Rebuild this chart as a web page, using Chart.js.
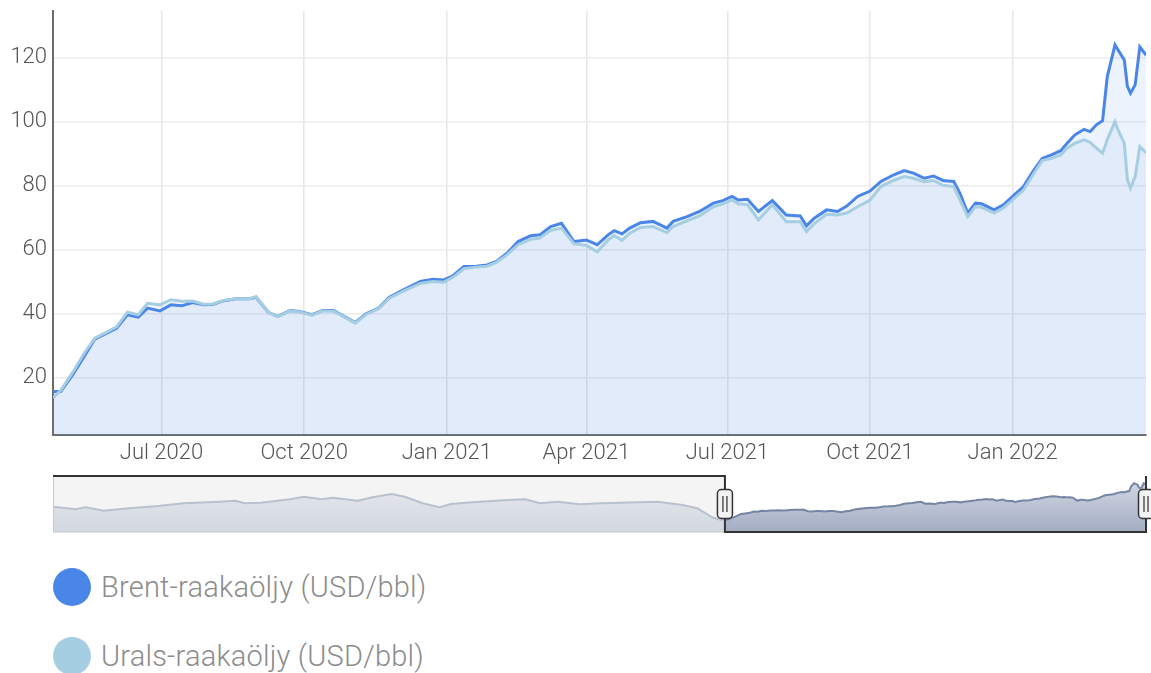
<!DOCTYPE html>
<html>
<head>
<meta charset="utf-8">
<script src="https://cdn.jsdelivr.net/npm/chart.js@4.4.1/dist/chart.umd.min.js"></script>
<style>
	body{margin:0;background:#fff;width:1151px;height:673px;overflow:hidden;position:relative;font-family:Roboto,'Liberation Sans',sans-serif;}
	#paa{position:absolute;left:0;top:0;}
	#nav{position:absolute;left:0;top:470px;}
	.selite{position:absolute;left:53px;height:38px;display:flex;align-items:center;}
	.pallo{width:38px;height:38px;border-radius:50%;margin-right:10px;}
	.teksti{font-size:29px;font-weight:300;color:#8c8c8c;letter-spacing:0.2px;}
</style>
</head>
<body>
<canvas id="paa" width="1151" height="470"></canvas>
<canvas id="nav" width="1151" height="70"></canvas>
<div class="selite" style="top:568px"><div class="pallo" style="background:#4a86e8"></div><span class="teksti">Brent-raakaöljy (USD/bbl)</span></div>
<div class="selite" style="top:637px"><div class="pallo" style="background:#a6cee3"></div><span class="teksti">Urals-raakaöljy (USD/bbl)</span></div>
<script>
	// paivamaarat ja hinnat (USD/bbl) luettu kuvasta
	let paivat=['2020-04-22','2020-04-27','2020-05-05','2020-05-12','2020-05-19','2020-05-26','2020-06-02','2020-06-09','2020-06-16','2020-06-22',
		'2020-06-30','2020-07-07','2020-07-14','2020-07-21','2020-07-28','2020-08-03','2020-08-10','2020-08-18','2020-08-27','2020-08-31',
		'2020-09-08','2020-09-14','2020-09-22','2020-09-28','2020-10-06','2020-10-13','2020-10-20','2020-10-26','2020-11-03','2020-11-10',
		'2020-11-18','2020-11-25','2020-12-04','2020-12-15','2020-12-23','2020-12-30','2021-01-05','2021-01-12','2021-01-20','2021-01-27',
		'2021-02-02','2021-02-09','2021-02-16','2021-02-24','2021-03-02','2021-03-09','2021-03-16','2021-03-24','2021-04-01','2021-04-08',
		'2021-04-15','2021-04-19','2021-04-24','2021-04-29','2021-05-06','2021-05-14','2021-05-23','2021-05-27','2021-06-05','2021-06-13',
		'2021-06-22','2021-06-28','2021-07-04','2021-07-08','2021-07-14','2021-07-21','2021-07-30','2021-08-08','2021-08-17','2021-08-21',
		'2021-08-26','2021-09-03','2021-09-10','2021-09-16','2021-09-23','2021-10-01','2021-10-08','2021-10-16','2021-10-23','2021-10-29',
		'2021-11-05','2021-11-11','2021-11-17','2021-11-24','2021-11-28','2021-12-03','2021-12-08','2021-12-12','2021-12-20','2021-12-26',
		'2022-01-02','2022-01-08','2022-01-14','2022-01-20','2022-01-26','2022-02-01','2022-02-05','2022-02-10','2022-02-16','2022-02-20',
		'2022-02-24','2022-02-28','2022-03-03','2022-03-08','2022-03-10','2022-03-14','2022-03-16','2022-03-18','2022-03-21','2022-03-24',
		'2022-03-28'];
	let brent=[15.6,15.6,21.0,26.5,32.0,33.7,35.4,39.6,38.9,41.7,
		40.8,42.7,42.4,43.4,42.7,42.8,44.0,44.6,44.6,45.1,
		40.3,39.1,40.9,40.6,39.6,40.9,40.9,39.3,37.2,39.9,
		41.7,45.1,47.4,50.0,50.7,50.5,51.8,54.7,54.8,55.2,
		56.3,58.9,62.5,64.3,64.6,67.2,68.2,62.5,63.0,61.5,
		64.6,65.9,64.9,66.7,68.4,68.8,66.7,68.8,70.3,71.9,
		74.5,75.3,76.6,75.5,75.7,71.9,75.3,70.8,70.5,67.4,
		69.8,72.4,71.9,73.6,76.6,78.3,81.3,83.3,84.7,83.9,
		82.3,83.0,81.6,81.3,77.6,71.4,74.5,74.3,72.4,74.0,
		77.1,79.7,84.4,88.5,89.6,90.9,93.2,95.8,97.6,96.9,
		99.0,100.3,114.0,124.0,122.4,119.3,111.0,108.9,111.5,123.4,
		120.8];
	let urals=[13.6,16.0,21.8,27.5,32.3,34.0,35.8,40.4,39.6,43.2,
		42.7,44.3,43.8,43.9,42.9,43.0,44.1,44.6,44.6,45.3,
		40.3,39.0,40.8,40.5,39.5,40.8,40.7,39.1,37.0,39.7,
		41.5,44.8,47.0,49.4,50.0,49.8,51.3,54.0,54.5,54.8,
		56.0,58.4,61.5,63.2,63.6,66.0,66.7,61.8,61.3,59.3,
		63.0,64.4,62.9,65.1,66.9,67.2,65.3,67.2,69.0,70.5,
		73.4,74.3,75.5,74.3,74.0,69.3,74.0,68.7,68.7,65.6,
		68.1,71.0,70.8,71.4,73.4,75.5,79.7,81.6,82.8,82.3,
		81.2,81.6,80.1,79.7,75.5,70.3,73.4,73.2,71.4,73.0,
		76.0,78.6,83.3,87.8,88.5,89.6,91.7,93.2,94.3,93.5,
		91.7,90.1,94.3,100.0,97.4,93.2,81.8,79.2,82.8,92.2,
		90.3];

	// navigaattorin aiempi historia (Brent)
	let historiaPaivat=['2017-03-24','2017-05-01','2017-05-18','2017-06-17','2017-07-29','2017-09-16','2017-10-28','2017-12-27','2018-01-24','2018-02-08',
		'2018-03-07','2018-04-25','2018-05-18','2018-06-17','2018-07-06','2018-08-16','2018-09-10','2018-10-12','2018-11-03','2018-12-03',
		'2018-12-31','2019-01-19','2019-02-24','2019-04-24','2019-05-24','2019-06-17','2019-07-17','2019-08-23','2019-09-27','2019-12-31',
		'2020-02-11','2020-03-07','2020-03-31','2020-04-15'];
	let historiaBrent=[53.7,46.0,52.0,41.8,49.0,55.8,63.9,68.7,71.6,63.9,
		65.7,75.8,83.6,75.8,80.6,71.6,81.8,91.6,83.6,63.9,
		52.0,61.8,66.9,73.7,75.8,63.9,68.7,60.9,63.9,68.7,
		58.8,49.0,23.0,14.0];

	let tickPaivat=['2020-07-01','2020-10-01','2021-01-01','2021-04-01','2021-07-01','2021-10-01','2022-01-01'];
	let tickNimet=['Jul 2020','Oct 2020','Jan 2021','Apr 2021','Jul 2021','Oct 2021','Jan 2022'];
	let yTicks=[20,40,60,80,100,120];

	function paiva(s){
		return Date.parse(s+'T00:00:00Z')/86400000;
	}
	function pisteet(pv,arvot){
		return pv.map((p,i)=>({x:paiva(p),y:arvot[i]}));
	}

	let fontti={family:"Roboto, 'Liberation Sans', sans-serif",size:22,weight:'300'};

	let G1=new Chart(document.getElementById('paa').getContext('2d'),{
		type:'line',
		data:{
			datasets:[
				{
					label:'Brent-raakaöljy (USD/bbl)',
					data:pisteet(paivat,brent),
					borderColor:'#4a86e8',
					backgroundColor:'rgba(74,134,232,0.10)',
					borderWidth:3,
					fill:'start',
					order:1
				},
				{
					label:'Urals-raakaöljy (USD/bbl)',
					data:pisteet(paivat,urals),
					borderColor:'#a6cee3',
					backgroundColor:'rgba(110,160,215,0.09)',
					borderWidth:3,
					fill:'start',
					order:0
				}
			]
		},
		options:{
			responsive:false,
			animation:false,
			layout:{padding:{left:0,right:5,top:11,bottom:0}},
			elements:{point:{radius:0},line:{tension:0}},
			plugins:{legend:{display:false},tooltip:{enabled:false},filler:{drawTime:'beforeDatasetsDraw'}},
			scales:{
				x:{
					type:'linear',
					min:paiva(paivat[0]),
					max:paiva(paivat[paivat.length-1]),
					afterBuildTicks:function(s){ s.ticks=tickPaivat.map(p=>({value:paiva(p)})); },
					afterFit:function(s){ s.height=35; s.paddingLeft=0; s.paddingRight=0; },
					ticks:{autoSkip:false,maxRotation:0,padding:5,color:'#555',font:fontti,
						callback:function(v,i){ return tickNimet[i]; }},
					grid:{color:'#e6e6e6',lineWidth:1.5,drawTicks:false},
					border:{color:'#6b6b6b',width:2}
				},
				y:{
					min:2,
					max:134.6,
					afterBuildTicks:function(s){ s.ticks=yTicks.map(v=>({value:v})); },
					afterFit:function(s){ s.width=53; s.paddingTop=0; s.paddingBottom=0; },
					ticks:{padding:6,color:'#555',font:fontti},
					grid:{color:'#ececec',lineWidth:1.5,drawTicks:false},
					border:{color:'#6b6b6b',width:2}
				}
			}
		}
	});

	// navigaattori: tausta, kehys ja kahvat
	function kahva(ctx,x,yk){
		ctx.beginPath();
		ctx.roundRect(x-7.5,yk-14.5,15,29,4);
		ctx.fillStyle='#f2f2f2';
		ctx.fill();
		ctx.lineWidth=1.5;
		ctx.strokeStyle='#333';
		ctx.stroke();
		ctx.beginPath();
		ctx.moveTo(x-2,yk-8);ctx.lineTo(x-2,yk+8);
		ctx.moveTo(x+2,yk-8);ctx.lineTo(x+2,yk+8);
		ctx.strokeStyle='#555';
		ctx.stroke();
	}
	let navKehys={
		id:'navKehys',
		beforeDatasetsDraw(chart){
			let ctx=chart.ctx, a=chart.chartArea;
			let xs=chart.scales.x.getPixelForValue(paiva(paivat[0]));
			ctx.save();
			ctx.fillStyle='#f4f4f4';
			ctx.fillRect(a.left,a.top,xs-a.left,a.bottom-a.top);
			ctx.restore();
		},
		afterDatasetsDraw(chart){
			let ctx=chart.ctx, a=chart.chartArea;
			let xs=chart.scales.x.getPixelForValue(paiva(paivat[0]));
			let xe=chart.scales.x.getPixelForValue(paiva(paivat[paivat.length-1]));
			ctx.save();
			ctx.strokeStyle='#c8c8c8';
			ctx.lineWidth=1;
			ctx.strokeRect(a.left+0.5,a.top,xs-a.left,a.bottom-a.top);
			ctx.beginPath();
			ctx.moveTo(a.left,a.top);
			ctx.lineTo(xs,a.top);
			ctx.lineTo(xs,a.bottom);
			ctx.lineTo(xe,a.bottom);
			ctx.lineTo(xe,a.top);
			ctx.strokeStyle='#333';
			ctx.lineWidth=2;
			ctx.stroke();
			let yk=(a.top+a.bottom)/2;
			kahva(ctx,xs,yk);
			kahva(ctx,xe,yk);
			ctx.restore();
		}
	};
	function liuku(ylä,ala){
		return function(c){
			let a=c.chart.chartArea;
			if(!a) return ala;
			let g=c.chart.ctx.createLinearGradient(0,a.top,0,a.bottom);
			g.addColorStop(0,ylä);
			g.addColorStop(1,ala);
			return g;
		};
	}

	let G2=new Chart(document.getElementById('nav').getContext('2d'),{
		type:'line',
		data:{
			datasets:[
				{
					data:pisteet(historiaPaivat.concat([paivat[0]]),historiaBrent.concat([brent[0]])),
					borderColor:'#b9c1ce',
					backgroundColor:liuku('#e9ebef','#d2d7df'),
					borderWidth:2,
					fill:'start'
				},
				{
					data:pisteet(paivat,brent),
					borderColor:'#7585a4',
					backgroundColor:liuku('#d6dce7','#a3adc2'),
					borderWidth:2,
					fill:'start'
				}
			]
		},
		options:{
			responsive:false,
			animation:false,
			layout:{padding:{left:53,right:5,top:6,bottom:8}},
			elements:{point:{radius:0},line:{tension:0}},
			plugins:{legend:{display:false},tooltip:{enabled:false}},
			scales:{
				x:{type:'linear',display:false,min:paiva(historiaPaivat[0]),max:paiva(paivat[paivat.length-1])},
				y:{display:false,min:-21.8,max:145.4}
			}
		},
		plugins:[navKehys]
	});
</script>
</body>
</html>
